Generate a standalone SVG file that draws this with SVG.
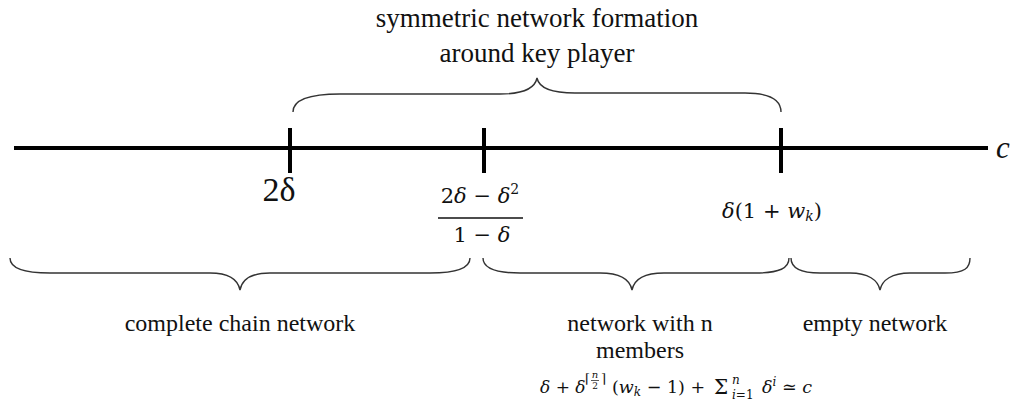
<svg xmlns="http://www.w3.org/2000/svg" width="1017" height="408" viewBox="0 0 1017 408">
<style>
.lbl{font-family:"Liberation Serif","Times New Roman",serif;fill:#111;text-anchor:middle}
.math{font-family:"DejaVu Serif","Liberation Serif",serif;fill:#111}
.it{font-style:italic}
.axis{stroke:#000;stroke-width:4;fill:none}
.brace{stroke:#333;stroke-width:1.4;fill:none}
</style>
<rect width="1017" height="408" fill="#fff"/>
<g id="connectors">
<line class="axis" x1="14" y1="148" x2="988" y2="148"/>
<line class="axis" x1="290" y1="128" x2="290" y2="173"/>
<line class="axis" x1="484" y1="128" x2="484" y2="173"/>
<line class="axis" x1="781" y1="128" x2="781" y2="173"/>
<path class="brace" d="M293,112 C293,100 310,94 340,94 L500,94 C525,94 535,88 537,78 C539,88 550,93 575,93 L745,93 C770,93 781,100 781,112"/>
<path class="brace" d="M10,258 C10,268 22,273 50,273 L210,273 C230,273 238,280 240,290 C242,280 250,273 270,273 L430,273 C458,273 470,268 470,258"/>
<path class="brace" d="M483,258 C483,268 495,273 520,273 L600,273 C620,273 630,280 632,290 C634,280 644,273 664,273 L755,273 C780,273 789,268 789,258"/>
<path class="brace" d="M791,258 C791,268 800,273 820,273 L850,273 C868,273 878,280 880,290 C882,280 892,273 910,273 L945,273 C965,273 970,268 970,258"/>
</g>
<g id="axis-label">
<text class="lbl it" x="1003" y="158" font-size="31">c</text>
</g>
<g id="tick-2delta">
<text class="lbl" x="279" y="201" font-size="34">2δ</text>
</g>
<g id="tick-fraction">
<text class="math" x="480" y="203" font-size="21" text-anchor="middle">2<tspan class="it">δ</tspan> − <tspan class="it">δ</tspan><tspan font-size="14" dy="-9">2</tspan></text>
<line x1="438" y1="218" x2="523" y2="218" stroke="#111" stroke-width="1.5"/>
<text class="math" x="482" y="242" font-size="21" text-anchor="middle">1 − <tspan class="it">δ</tspan></text>
</g>
<g id="tick-wk">
<text class="math" x="722" y="218" font-size="21"><tspan class="it">δ</tspan>(1 + <tspan class="it">w</tspan><tspan class="it" font-size="14" dy="3">k</tspan><tspan dy="-3">)</tspan></text>
</g>
<g id="top-label">
<text class="lbl" x="537" y="27" font-size="27">symmetric network formation</text>
<text class="lbl" x="537" y="62" font-size="27">around key player</text>
</g>
<g id="complete-chain">
<text class="lbl" x="240" y="331" font-size="24">complete chain network</text>
</g>
<g id="n-members">
<text class="lbl" x="640" y="331" font-size="24">network with n</text>
<text class="lbl" x="640" y="358" font-size="24">members</text>
<text class="math" x="540" y="393" font-size="17"><tspan class="it">δ</tspan> + <tspan class="it">δ</tspan></text>
<text class="math" x="585" y="383" font-size="13">⌈</text>
<text class="math it" x="595" y="378" font-size="10" text-anchor="middle">n</text>
<line x1="591" y1="380.5" x2="599" y2="380.5" stroke="#111" stroke-width="0.7"/>
<text class="math" x="595" y="389" font-size="9" text-anchor="middle">2</text>
<text class="math" x="601" y="383" font-size="13">⌉</text>
<text class="math" x="612" y="393" font-size="17.5">(<tspan class="it">w</tspan><tspan class="it" font-size="12" dy="3">k</tspan><tspan dy="-3"> − 1) + </tspan></text>
<text class="math" x="714" y="394" font-size="20">Σ</text>
<text class="math it" x="732" y="384" font-size="12">n</text>
<text class="math" x="732" y="399" font-size="12"><tspan class="it">i</tspan>=1</text>
<text class="math" x="762" y="393" font-size="17.5"><tspan class="it">δ</tspan><tspan class="it" font-size="12" dy="-7">i</tspan><tspan dy="7"> ≃ </tspan><tspan class="it">c</tspan></text>
</g>
<g id="empty">
<text class="lbl" x="875" y="331" font-size="24">empty network</text>
</g>
</svg>
